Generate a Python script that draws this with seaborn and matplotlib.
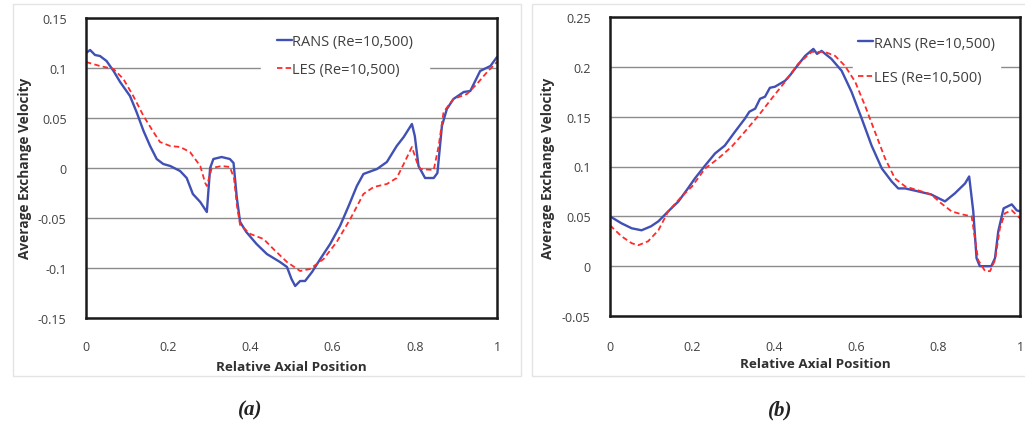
import matplotlib
matplotlib.use("Agg")
import matplotlib.pyplot as plt
import seaborn as sns
import numpy as np
import pandas as pd
from matplotlib.patches import Rectangle

# ---------------- data ----------------
series_labels = ["RANS (Re=10,500)", "LES (Re=10,500)"]
xticks = [0, 0.2, 0.4, 0.6, 0.8, 1]
xtick_labels = ["0", "0.2", "0.4", "0.6", "0.8", "1"]
a_yticks = [-0.15, -0.1, -0.05, 0, 0.05, 0.1, 0.15]
a_ytick_labels = ["-0.15", "-0.1", "-0.05", "0", "0.05", "0.1", "0.15"]
b_yticks = [-0.05, 0, 0.05, 0.1, 0.15, 0.2, 0.25]
b_ytick_labels = ["-0.05", "0", "0.05", "0.1", "0.15", "0.2", "0.25"]

a_rans_x = [0, 0.01, 0.022, 0.034, 0.05, 0.067, 0.083, 0.107, 0.123, 0.14, 0.156, 0.172, 0.188,
            0.205, 0.229, 0.245, 0.26, 0.278, 0.294, 0.302, 0.31, 0.33, 0.35, 0.359, 0.367,
            0.375, 0.39, 0.415, 0.44, 0.472, 0.489, 0.50, 0.509, 0.521, 0.533, 0.55, 0.57,
            0.594, 0.618, 0.639, 0.659, 0.675, 0.708, 0.732, 0.756, 0.773, 0.793, 0.80,
            0.809, 0.825, 0.846, 0.855, 0.866, 0.878, 0.894, 0.919, 0.935, 0.959, 0.984, 1.0]
a_rans_y = [0.115, 0.118, 0.113, 0.112, 0.107, 0.097, 0.086, 0.072, 0.056, 0.037, 0.022, 0.009, 0.004,
            0.002, -0.003, -0.010, -0.026, -0.034, -0.044, 0.0, 0.009, 0.011, 0.009, 0.005, -0.03,
            -0.054, -0.064, -0.076, -0.086, -0.094, -0.099, -0.111, -0.118, -0.113, -0.113, -0.104, -0.091,
            -0.076, -0.058, -0.038, -0.018, -0.006, -0.001, 0.006, 0.022, 0.031, 0.044, 0.032,
            0.002, -0.010, -0.010, -0.005, 0.042, 0.059, 0.069, 0.076, 0.077, 0.097, 0.102, 0.111]

a_les_x = [0, 0.034, 0.067, 0.091, 0.115, 0.14, 0.164, 0.18, 0.205, 0.229, 0.253, 0.278, 0.29,
           0.294, 0.306, 0.33, 0.35, 0.36, 0.368, 0.375, 0.40, 0.432, 0.456, 0.489, 0.521, 0.545,
           0.578, 0.61, 0.643, 0.675, 0.70, 0.732, 0.756, 0.773, 0.793, 0.805, 0.813, 0.846,
           0.858, 0.87, 0.894, 0.927, 0.951, 0.976, 1.0]
a_les_y = [0.106, 0.102, 0.099, 0.089, 0.072, 0.052, 0.036, 0.026, 0.022, 0.021, 0.016, 0.002, -0.015,
           -0.018, 0.0, 0.002, 0.001, -0.01, -0.04, -0.057, -0.066, -0.071, -0.081, -0.094, -0.103, -0.101,
           -0.091, -0.074, -0.051, -0.026, -0.019, -0.016, -0.010, 0.004, 0.021, 0.006, -0.001, -0.002,
           0.022, 0.056, 0.069, 0.074, 0.084, 0.096, 0.106]

b_rans_x = [0, 0.028, 0.053, 0.077, 0.1, 0.118, 0.142, 0.167, 0.19, 0.207, 0.232, 0.256, 0.28,
            0.305, 0.329, 0.34, 0.354, 0.366, 0.378, 0.39, 0.402, 0.427, 0.44, 0.451, 0.476, 0.496,
            0.505, 0.516, 0.54, 0.565, 0.589, 0.614, 0.638, 0.663, 0.687, 0.703, 0.72, 0.752, 0.783,
            0.817, 0.841, 0.866, 0.876, 0.886, 0.894, 0.902, 0.93, 0.939, 0.947, 0.96, 0.98, 0.992, 1.0]
b_rans_y = [0.05, 0.043, 0.038, 0.036, 0.040, 0.045, 0.055, 0.065, 0.078, 0.088, 0.101, 0.113, 0.121,
            0.135, 0.148, 0.155, 0.158, 0.168, 0.170, 0.179, 0.180, 0.186, 0.192, 0.198, 0.211, 0.218,
            0.213, 0.216, 0.208, 0.196, 0.175, 0.148, 0.121, 0.098, 0.085, 0.078, 0.078, 0.075, 0.072,
            0.065, 0.073, 0.083, 0.090, 0.055, 0.008, 0.0, 0.0, 0.008, 0.035, 0.058, 0.062, 0.056, 0.055]

b_les_x = [0, 0.028, 0.053, 0.069, 0.093, 0.118, 0.142, 0.175, 0.2, 0.232, 0.264, 0.297, 0.329,
           0.362, 0.394, 0.427, 0.459, 0.492, 0.524, 0.549, 0.573, 0.598, 0.622, 0.646, 0.671,
           0.695, 0.72, 0.752, 0.783, 0.808, 0.833, 0.858, 0.882, 0.89, 0.898, 0.915, 0.927,
           0.939, 0.951, 0.963, 0.98, 1.0]
b_les_y = [0.041, 0.030, 0.023, 0.021, 0.025, 0.036, 0.055, 0.070, 0.080, 0.098, 0.108, 0.120, 0.135,
           0.151, 0.168, 0.185, 0.203, 0.215, 0.215, 0.211, 0.201, 0.185, 0.161, 0.135, 0.108,
           0.088, 0.080, 0.076, 0.072, 0.063, 0.055, 0.052, 0.050, 0.028, 0.006, -0.005, -0.005,
           0.006, 0.038, 0.053, 0.056, 0.048]

captions = ["(a)", "(b)"]
xlabel = "Relative Axial Position"
ylabel = "Average Exchange Velocity"

# ---------------- style ----------------
sns.set_style("white")
plt.rcParams["font.family"] = ["Open Sans", "DejaVu Sans"]

BLUE = "#4050B4"
RED = "#FF2A2A"
GRID = "#8C8C8C"
TXT = "#404040"

W, H = 1025, 435
fig = plt.figure(figsize=(W / 100, H / 100), dpi=100)

def frac_rect(x0, y0, x1, y1):
    return [x0 / W, 1 - y1 / H, (x1 - x0) / W, (y1 - y0) / H]

# chart area frames (faint)
for (x0, y0, x1, y1) in [(13, 5, 521, 377), (532, 5, 1040, 377)]:
    fig.patches.append(Rectangle((x0 / W, 1 - y1 / H), (x1 - x0) / W, (y1 - y0) / H,
                                 transform=fig.transFigure, facecolor="none",
                                 edgecolor="#E4E4E4", linewidth=1.0, zorder=-10))

axA = fig.add_axes(frac_rect(86, 19, 497, 319))
axB = fig.add_axes(frac_rect(610, 18, 1020, 317))

LFS = 10.5
panels = [
    (axA, a_rans_x, a_rans_y, a_les_x, a_les_y, a_yticks, a_ytick_labels,
     (0.426, 1.0), 0.92, 1.1, 25, 16, 5.0),
    (axB, b_rans_x, b_rans_y, b_les_x, b_les_y, b_yticks, b_ytick_labels,
     (0.593, 0.955), 1.33, 0.35, 548, 17.5, 3.0),
]

for ax, rx, ry, lx, ly, yt, ytl, leg_anchor, lspace, bpad, ylab_x, xpad, lpad in panels:
    ax.patch.set_alpha(0)
    sns.lineplot(x=rx, y=ry, ax=ax, color=BLUE, linewidth=1.7, label=series_labels[0],
                 estimator=None, sort=False)
    sns.lineplot(x=lx, y=ly, ax=ax, color=RED, linewidth=1.3, label=series_labels[1],
                 estimator=None, sort=False, linestyle=(0, (3, 1.8)))
    ax.set_xlim(0, 1)
    ax.set_ylim(yt[0], yt[-1])
    ax.set_xticks(xticks)
    ax.set_xticklabels(xtick_labels)
    ax.set_yticks(yt)
    ax.set_yticklabels(ytl)
    ax.tick_params(axis="x", length=0, labelsize=9, labelcolor=TXT, pad=xpad)
    ax.tick_params(axis="y", length=0, labelsize=9, labelcolor=TXT, pad=14)
    ax.yaxis.grid(True, color=GRID, linewidth=1.0)
    ax.xaxis.grid(False)
    ax.set_axisbelow(True)
    for s in ax.spines.values():
        s.set_visible(True)
        s.set_color("#1A1A1A")
        s.set_linewidth(1.8)
    ax.set_xlabel(xlabel, fontsize=9.7, fontweight="bold", color="#303030", labelpad=lpad)
    ax.set_ylabel("")
    fig.text(ylab_x / W, 1 - 168 / H, ylabel, rotation=90, fontsize=9.8, fontweight="bold",
             color="#303030", ha="center", va="center")
    leg = ax.legend(loc="upper left", bbox_to_anchor=leg_anchor, frameon=True, fontsize=LFS,
                    handlelength=1.0, handletextpad=0.05, labelspacing=lspace, borderpad=bpad,
                    borderaxespad=0, fancybox=False)
    leg.set_zorder(1.5)
    leg.get_frame().set_facecolor("white")
    leg.get_frame().set_edgecolor("white")
    leg.get_frame().set_alpha(1)
    for t in leg.get_texts():
        t.set_color(TXT)

for cx, cap in zip([250, 780], captions):
    fig.text(cx / W, 1 - 410 / H, cap, fontsize=15, fontstyle="italic", fontweight="bold",
             family=["Liberation Serif", "DejaVu Serif"], ha="center", va="center", color="#222222")

fig.savefig("out.png", dpi=100)
